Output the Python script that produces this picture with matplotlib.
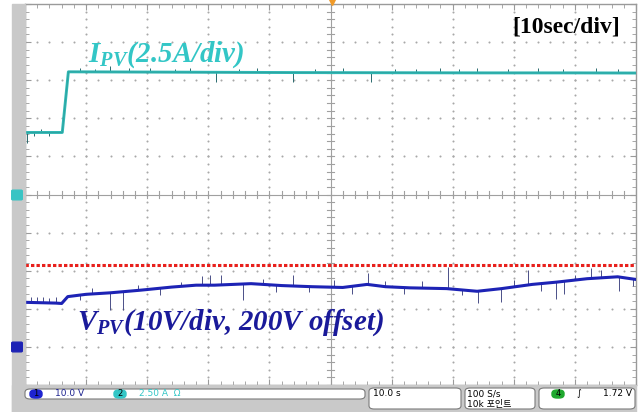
import matplotlib
matplotlib.use("Agg")
import matplotlib.pyplot as plt
from matplotlib.patches import Rectangle, FancyBboxPatch
import numpy as np

plt.rcParams['mathtext.default'] = 'regular'

# ---------------- data ----------------
# time axis: 10 s/div, 10 divisions
time_span_s = 100.0
sec_per_div = 10.0

# I_PV (2.5 A/div, ground at centre line)
amp_per_div = 2.5
ipv_t = [0, 6.1, 7.1, 15, 30, 45, 60, 75, 90, 100]
ipv_a = [4.07, 4.07, 8.05, 8.04, 8.02, 8.00, 7.99, 7.98, 7.98, 7.97]
ipv_spike_t = [0.3, 1.5, 2.6, 4.0, 9.0, 11.5, 13.9, 17.0, 20.5, 24.5, 27.0, 31.3,
               35.0, 38.0, 43.9, 47.5, 52.0, 56.6, 60.5, 64.0, 68.0, 71.0, 74.0,
               79.0, 84.0, 88.0, 93.5, 97.0]
ipv_spike_a = [3.41, 3.85, 4.30, 3.85, 8.30, 8.25, 8.42, 8.28, 8.30, 8.25, 8.28, 7.35,
               8.25, 8.28, 7.40, 8.25, 8.28, 7.35, 8.25, 8.25, 8.30, 8.25, 8.33,
               8.25, 8.27, 8.24, 8.30, 8.26]

# V_PV (10 V/div, 200 V offset, ground marker 4 div below centre)
volt_per_div = 10.0
volt_offset = 200.0
ch1_ground_div = -4.0
vpv_t = [0, 5, 6, 7, 10, 14, 19, 24, 28, 31, 37, 42, 47, 52, 56, 59, 63,
         69, 74, 78, 83, 87, 92, 97, 100]
vpv_v = [211.7, 211.5, 211.4, 213.2, 213.8, 214.2, 214.9, 215.7, 216.2, 216.2,
         216.6, 216.1, 215.8, 215.6, 216.4, 215.8, 215.5, 215.3, 214.6, 215.3,
         216.4, 217.0, 217.9, 218.4, 217.7]
vpv_spike_t = [1.0, 2.0, 3.0, 4.0, 5.0, 9.0, 11.0, 13.9, 16.1, 18.5, 22.1, 25.5,
               29.0, 30.3, 32.0, 35.6, 39.0, 41.0, 43.9, 46.5, 50.5, 53.5, 56.1,
               59.0, 62.0, 65.0, 69.3, 71.5, 74.1, 77.9, 80.0, 82.3, 84.5, 86.9,
               88.2, 90.0, 92.6, 94.3, 97.2, 99.5]
vpv_spike_v = [213.2, 213.0, 213.2, 212.9, 213.0, 212.3, 215.4, 209.8, 209.8, 216.3,
               213.5, 217.0, 218.6, 219.0, 218.8, 212.3, 217.9, 214.4, 218.8, 214.3,
               217.5, 214.0, 219.5, 217.3, 213.8, 217.2, 221.1, 213.7, 211.4, 211.7,
               217.5, 220.3, 214.7, 212.7, 213.8, 218.8, 220.8, 220.3, 214.6, 216.0]
vref_v = 221.4

# ---------------- figure ----------------
W, H = 642, 412
fig = plt.figure(figsize=(W / 100, H / 100), dpi=100)
fig.patch.set_facecolor('white')

def fx(px):
    return px / W

def fy(py):
    return 1 - py / H

gray = '#c9c9c9'
fig.patches.append(Rectangle((fx(12), fy(412)), fx(13), fy(4) - fy(412),
                             transform=fig.transFigure, color=gray, zorder=0))
fig.patches.append(Rectangle((fx(12), fy(412)), fx(624), fy(385) - fy(412),
                             transform=fig.transFigure, color=gray, zorder=0))

ax = fig.add_axes([fx(25), fy(385), fx(611), fy(4) - fy(385)])
ax.set_xlim(0, time_span_s)
ax.set_ylim(-5, 5)
ax.set_facecolor('white')
for s in ax.spines.values():
    s.set_color('#9a9a9a')
    s.set_linewidth(1.0)
ax.set_xticks(np.arange(0, 101, 10))
ax.set_xticks(np.arange(0, 101, 2), minor=True)
ax.set_yticks(np.arange(-5, 6, 1))
ax.set_yticks(np.arange(-5, 5.01, 0.2), minor=True)
ax.tick_params(which='both', direction='in', top=True, right=True,
               labelbottom=False, labelleft=False, color='#9a9a9a')
ax.tick_params(which='major', length=4)
ax.tick_params(which='minor', length=3)

# dotted grid
gc = '#a8a8a8'
for k in range(1, 10):
    if k == 5:
        continue
    yy = np.arange(-5, 5.01, 0.2)
    ax.scatter(np.full_like(yy, k * 10.0), yy, s=2.2, color=gc, lw=0, zorder=1)
for k in range(-4, 5):
    if k == 0:
        continue
    xx = np.arange(0, 100.01, 2)
    ax.scatter(xx, np.full_like(xx, float(k)), s=2.2, color=gc, lw=0, zorder=1)
# centre crosshair with ticks
cc = '#a0a0a0'
ax.axhline(0, color=cc, lw=0.8, zorder=1)
ax.axvline(50, color=cc, lw=0.8, zorder=1)
for xx in np.arange(0, 100.01, 2):
    ax.plot([xx, xx], [-0.08, 0.08], color=cc, lw=0.8, zorder=1)
for yy in np.arange(-5, 5.01, 0.2):
    ax.plot([49.4, 50.6], [yy, yy], color=cc, lw=0.8, zorder=1)

# reference dotted red line
vref_div = (vref_v - volt_offset) / volt_per_div + ch1_ground_div
ax.axhline(vref_div, color='#e8201c', lw=2.2, linestyle=(0, (1.1, 0.7)), zorder=3)

# V_PV trace
vdiv = [(v - volt_offset) / volt_per_div + ch1_ground_div for v in vpv_v]
vsp = [(v - volt_offset) / volt_per_div + ch1_ground_div for v in vpv_spike_v]
vbase = np.interp(vpv_spike_t, vpv_t, vdiv)
ax.vlines(vpv_spike_t, vbase, vsp, color='#4a4f88', lw=0.7, zorder=4)
ax.plot(vpv_t, vdiv, color='#1d23b5', lw=2.2, zorder=5, solid_joinstyle='round')

# I_PV trace
idiv = [a / amp_per_div for a in ipv_a]
isp = [a / amp_per_div for a in ipv_spike_a]
ibase = np.interp(ipv_spike_t, ipv_t, idiv)
ax.vlines(ipv_spike_t, ibase, isp, color='#2a6a6e', lw=0.7, zorder=4)
ax.plot(ipv_t, idiv, color='#2fb8b4', lw=2.1, zorder=5)
ax.plot(ipv_t, idiv, color='#2a8a8a', lw=0.5, zorder=6, alpha=0.6)

# trigger marker
ax.plot([50.2], [5.05], marker='v', color='#f09a28', ms=5, clip_on=False, zorder=6)

# channel ground markers
def chan_marker(py, label, fc, tc):
    fig.patches.append(FancyBboxPatch((fx(13), fy(py + 4)), fx(8), fy(py - 4) - fy(py + 4),
                                      boxstyle='round,pad=0.002', transform=fig.transFigure,
                                      fc=fc, ec=fc, zorder=5))
    fig.text(fx(17), fy(py), label, color=tc, fontsize=5.5, ha='center', va='center',
             fontweight='bold')

chan_marker(195, '2', '#39c4c4', 'white')
chan_marker(347, '1', '#1d23b5', 'white')

# labels
ital = dict(family='Liberation Serif', fontweight='bold', fontstyle='italic')
fig.text(fx(88), fy(62), 'I$_{PV}$(2.5A/div)', color='#33c6c6', fontsize=20.8, **ital)
fig.text(fx(77), fy(330), 'V$_{PV}$(10V/div, 200V offset)', color='#1a1a9a',
         fontsize=20.8, **ital)
fig.text(fx(512), fy(33), '[10sec/div]', color='black', fontsize=17,
         family='Liberation Serif', fontweight='bold')

# status bar
def box(x0, y0, x1, y1):
    fig.patches.append(FancyBboxPatch((fx(x0), fy(y1)), fx(x1 - x0), fy(y0) - fy(y1),
                                      boxstyle='round,pad=0,rounding_size=0.008',
                                      transform=fig.transFigure, fc='white',
                                      ec='#7a7a7a', lw=0.8, zorder=2))

box(25, 389, 365, 399)
box(369, 388, 461, 409)
box(465, 388, 535, 409)
box(539, 388, 635, 409)

def pill(cx, cy, label, fc):
    fig.patches.append(FancyBboxPatch((fx(cx - 6), fy(cy + 4)), fx(12), fy(cy - 4) - fy(cy + 4),
                                      boxstyle='round,pad=0,rounding_size=0.008',
                                      transform=fig.transFigure, fc=fc, ec=fc, zorder=3))
    fig.text(fx(cx), fy(cy), label, color='black', fontsize=6, ha='center',
             va='center', zorder=4)

sb = dict(fontsize=6.5, va='center', family='DejaVu Sans', zorder=4)
pill(36, 394, '1', '#1d23d0')
fig.text(fx(55), fy(394), '10.0 V', color='#1d2390', **sb)
pill(120, 394, '2', '#33c6c6')
fig.text(fx(139), fy(394), '2.50 A  \u03a9', color='#33c6c6', **sb)
fig.text(fx(373), fy(394), '10.0 s', color='black', **sb)
fig.text(fx(467), fy(394), '100 S/s', color='black', **sb)
fig.text(fx(467), fy(404), '10k 포인트', color='black', fontsize=6.5, va='center',
         family=['DejaVu Sans', 'Noto Sans CJK KR'], zorder=4)
pill(558, 394, '4', '#1fa82e')
fig.text(fx(576), fy(394), '\u222b', color='black', **sb)
fig.text(fx(632), fy(394), '1.72 V', color='black', ha='right', fontsize=6.5,
         va='center', family='DejaVu Sans', zorder=4)

fig.savefig('out.png', dpi=100)
